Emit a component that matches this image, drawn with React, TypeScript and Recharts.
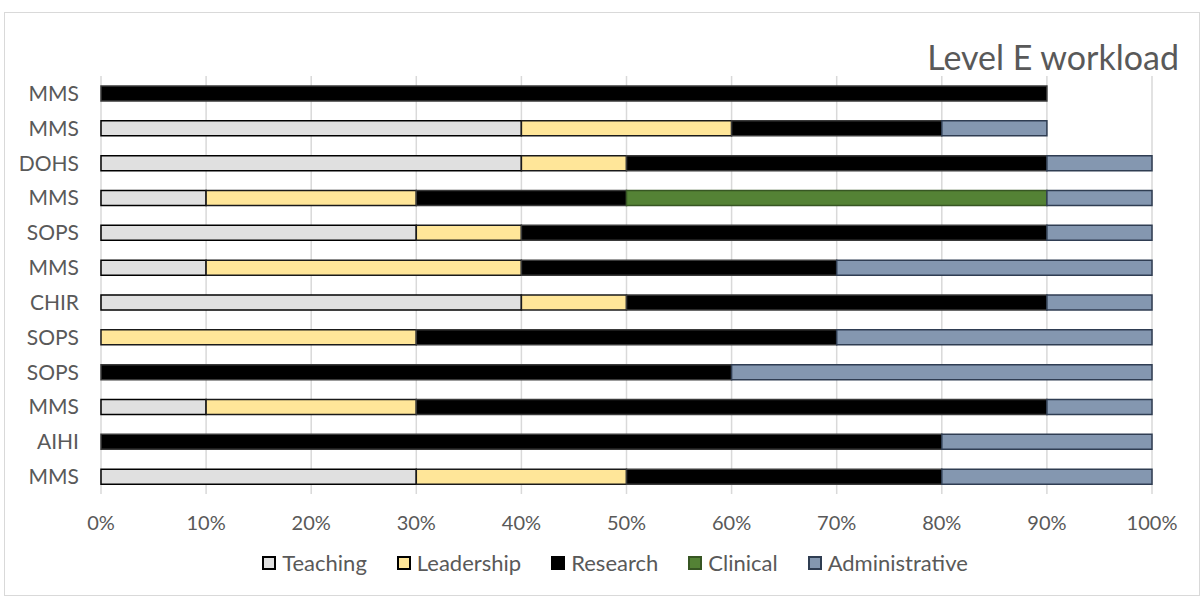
import React from 'react';
import { BarChart, Bar, XAxis, YAxis, CartesianGrid } from 'recharts';

// Workload split per staff member (percent of time)
const units = ['MMS', 'MMS', 'DOHS', 'MMS', 'SOPS', 'MMS', 'CHIR', 'SOPS', 'SOPS', 'MMS', 'AIHI', 'MMS'];
const teaching = [0, 40, 40, 10, 30, 10, 40, 0, 0, 10, 0, 30];
const leadership = [0, 20, 10, 20, 10, 30, 10, 30, 0, 20, 0, 20];
const research = [90, 20, 40, 20, 50, 30, 40, 40, 60, 60, 80, 30];
const clinical = [0, 0, 0, 40, 0, 0, 0, 0, 0, 0, 0, 0];
const administrative = [0, 10, 10, 10, 10, 30, 10, 30, 40, 10, 20, 20];
const xTicks = [0, 10, 20, 30, 40, 50, 60, 70, 80, 90, 100];

const data = units.map((u, i) => ({
  row: i,
  unit: u,
  Teaching: teaching[i],
  Leadership: leadership[i],
  Research: research[i],
  Clinical: clinical[i],
  Administrative: administrative[i],
}));

const series = [
  { key: 'Teaching', fill: '#E0E0E0', stroke: '#000000', icon: '#000000' },
  { key: 'Leadership', fill: '#FFE699', stroke: '#1a1a1a', icon: '#000000' },
  { key: 'Research', fill: '#000000', stroke: '#3a3a3a', icon: '#000000' },
  { key: 'Clinical', fill: '#548235', stroke: '#375623', icon: '#375623' },
  { key: 'Administrative', fill: '#8497B0', stroke: '#2F3D52', icon: '#2F3D52' },
];

const FONT = 'Lato, "Noto Sans", sans-serif';
const TEXT = '#595959';

const SeriesLegend = () => (
  <div
    style={{
      position: 'absolute',
      left: 0,
      top: 549,
      width: 1200,
      display: 'flex',
      justifyContent: 'center',
      alignItems: 'center',
      fontFamily: FONT,
      fontSize: 22,
      lineHeight: '28px',
      color: TEXT,
      paddingLeft: 30,
      boxSizing: 'border-box',
    }}
  >
    {series.map((s, i) => (
      <div
        key={s.key}
        style={{ display: 'flex', alignItems: 'center', marginRight: i === series.length - 1 ? 0 : 30 }}
      >
        <span
          style={{
            display: 'inline-block',
            width: 10,
            height: 10,
            background: s.fill,
            border: `2px solid ${s.icon}`,
            marginRight: 6,
          }}
        />
        <span>{s.key}</span>
      </div>
    ))}
  </div>
);

export default function App() {
  return (
    <div
      style={{
        position: 'absolute',
        left: 0,
        top: 0,
        width: 1200,
        height: 597,
        background: '#ffffff',
        overflow: 'hidden',
      }}
    >
      <div
        style={{
          position: 'absolute',
          left: 4,
          top: 12,
          width: 1196,
          height: 584,
          border: '1px solid #D9D9D9',
          boxSizing: 'border-box',
        }}
      />
      <div
        style={{
          position: 'absolute',
          right: 21,
          top: 40,
          fontFamily: FONT,
          fontSize: 34,
          color: TEXT,
          lineHeight: 1,
        }}
      >
        Level E workload
      </div>
      <BarChart
        width={1200}
        height={597}
        data={data}
        layout="vertical"
        margin={{ top: 76, right: 48, left: 0, bottom: 51 }}
        barSize={15}
        style={{ position: 'absolute', left: 0, top: 0 }}
      >
        <CartesianGrid vertical horizontal={false} stroke="#D9D9D9" strokeWidth={1.5} />
        <XAxis
          type="number"
          domain={[0, 100]}
          ticks={xTicks}
          tickFormatter={(v: number) => `${v}%`}
          axisLine={false}
          tickLine={false}
          tick={{ fill: TEXT, fontSize: 20, fontFamily: FONT }}
          tickMargin={16}
          height={52}
          interval={0}
        />
        <YAxis
          type="category"
          dataKey="row"
          width={101}
          axisLine={false}
          tickLine={false}
          tickFormatter={(v: number) => units[v]}
          tick={{ fill: TEXT, fontSize: 21, fontFamily: FONT }}
          tickMargin={16}
          interval={0}
        />
        {series.map((s) => (
          <Bar
            key={s.key}
            dataKey={s.key}
            stackId="w"
            fill={s.fill}
            stroke={s.stroke}
            strokeWidth={1.5}
            isAnimationActive={false}
          />
        ))}
      </BarChart>
      <SeriesLegend />
    </div>
  );
}
